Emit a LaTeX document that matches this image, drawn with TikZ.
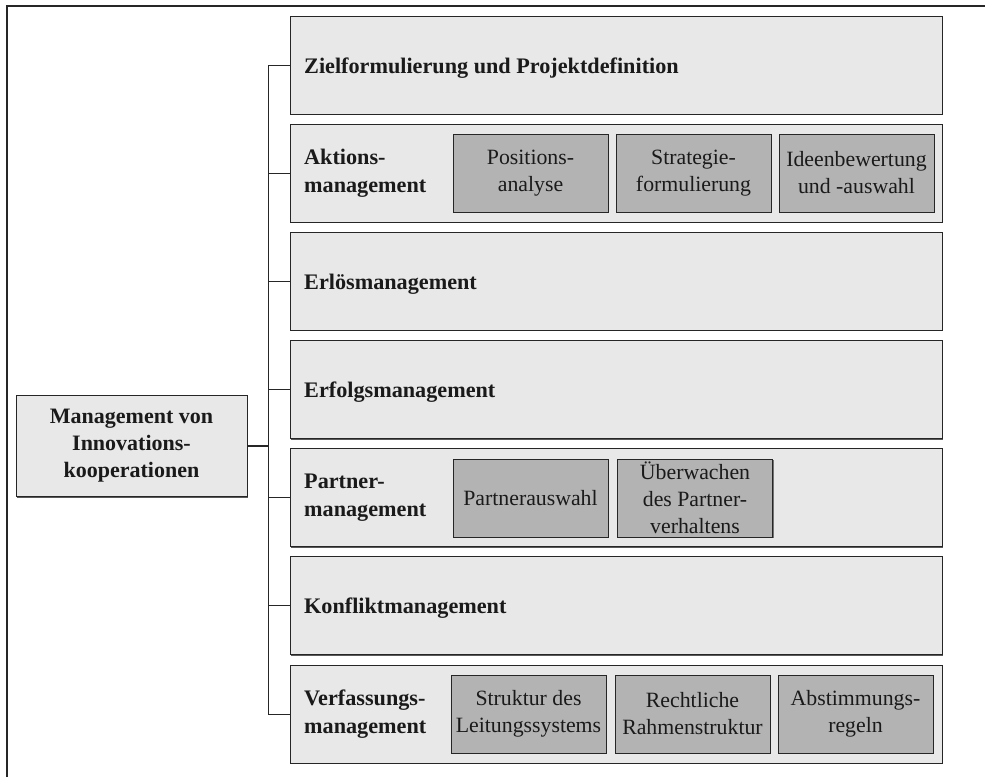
\documentclass[tikz,border=0pt]{standalone}
\usepackage{fontspec}
\setmainfont{Liberation Serif}
\usetikzlibrary{shadows}
\definecolor{mainfill}{HTML}{E8E8E8}
\definecolor{subfill}{HTML}{B3B3B3}
\definecolor{linecol}{HTML}{262626}
\definecolor{txt}{HTML}{1A1A1A}
\begin{document}
\begin{tikzpicture}[x=1pt,y=-1pt,
  every node/.style={text=txt},
  frame/.style={draw=linecol,line width=1.6pt},
  mainbox/.style={draw=linecol,line width=1pt,fill=mainfill,
    minimum width=652pt,minimum height=98pt,inner sep=0pt,
    drop shadow={shadow xshift=1.3pt,shadow yshift=-1.3pt,opacity=1,fill=black!65}},
  subbox/.style={draw=linecol,line width=1pt,fill=subfill,
    minimum width=155pt,minimum height=78pt,inner sep=0pt,align=center,
    font=\fontsize{21.8}{27}\selectfont,
    drop shadow={shadow xshift=1pt,shadow yshift=-1pt,opacity=1,fill=black!55}},
  rootbox/.style={draw=linecol,line width=1pt,fill=mainfill,
    minimum width=231pt,minimum height=101pt,inner sep=0pt,align=center,
    font=\fontsize{22}{27}\selectfont\bfseries,
    drop shadow={shadow xshift=1.3pt,shadow yshift=-1.3pt,opacity=1,fill=black!65}},
  label/.style={anchor=west,align=left,inner sep=0pt,
    font=\fontsize{22.2}{28}\selectfont\bfseries},
  link/.style={draw=linecol,line width=1pt}
]
\useasboundingbox (0,0) rectangle (985,777);

% outer frame (left and top edges)
\draw[frame] (7,777) -- (7,6) -- (985,6);

% root
\node[rootbox] (root) at (131.5,446) {Management von\\Innovations-\\kooperationen};

% main rows
\node[mainbox] (z) at (616,65) {};
\node[mainbox] (a) at (616,173) {};
\node[mainbox] (el) at (616,281) {};
\node[mainbox] (ef) at (616,389.5) {};
\node[mainbox] (p) at (616,497.5) {};
\node[mainbox] (k) at (616,605.5) {};
\node[mainbox] (v) at (616,714) {};

\node[label] (zl) at (304,68) {Zielformulierung und Projektdefinition};
\node[label] (al) at (304,173) {Aktions-\\management};
\node[label] (ell) at (304,284) {Erlösmanagement};
\node[label] (efl) at (304,392.5) {Erfolgsmanagement};
\node[label] (pl) at (304,497.5) {Partner-\\management};
\node[label] (kl) at (304,608.5) {Konfliktmanagement};
\node[label] (vl) at (304,714) {Verfassungs-\\management};

% sub-steps
\node[subbox] (a1) at (530.5,173) {Positions-\\analyse};
\node[subbox] (a2) at (693.5,173) {Strategie-\\formulierung};
\node[subbox] (a3) at (856.5,173) {Ideenbewertung\\und -auswahl};

\node[subbox] (p1) at (530.5,498) {Partnerauswahl};
\node[subbox] (p2) at (695,498) {Überwachen\\des Partner-\\verhaltens};

\node[subbox] (v1) at (528.5,714) {Struktur des\\Leitungssystems};
\node[subbox] (v2) at (692.5,714) {Rechtliche\\Rahmenstruktur};
\node[subbox] (v3) at (855.5,714) {Abstimmungs-\\regeln};

% connectors
\coordinate (bus) at (268,0);
\draw[link] (z.west) -- (bus |- z.west) -- (bus |- v.west) -- (v.west);
\foreach \n in {a,el,ef,p,k} \draw[link] (\n.west) -- (bus |- \n.west);
\draw[link,line width=1.6pt] (root.east) -- (bus |- root.east);
\end{tikzpicture}
\end{document}
